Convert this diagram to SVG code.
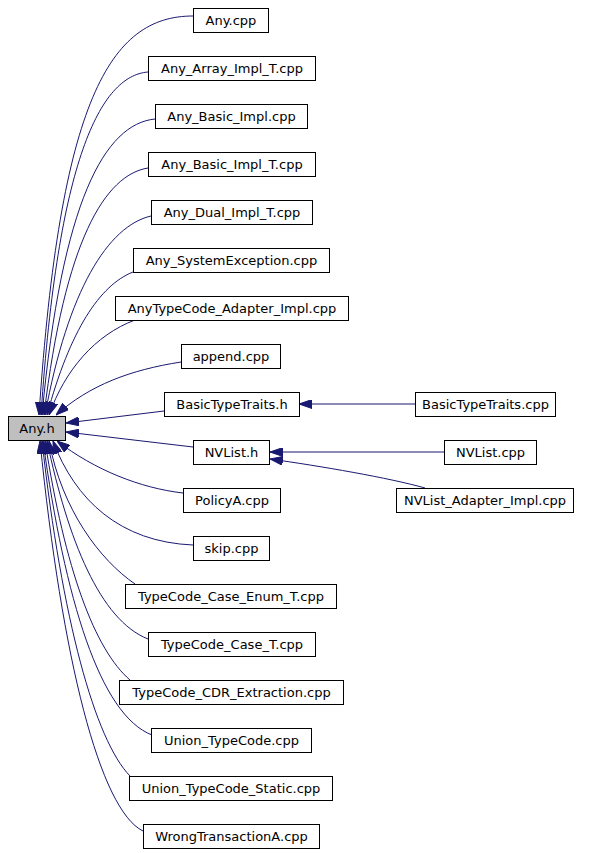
<svg xmlns="http://www.w3.org/2000/svg" width="589" height="853" viewBox="0 0 589 853">
<style>
.node rect{fill:#ffffff;stroke:#000000;stroke-width:1}
.node rect.hl{fill:#bfbfbf}
.node text{font-family:"DejaVu Sans","Liberation Sans",sans-serif;font-size:13px;fill:#000000;text-anchor:middle}
.edges path{fill:none;stroke:#191970;stroke-width:1;marker-end:url(#arr)}
</style>
<defs>
<marker id="arr" markerUnits="userSpaceOnUse" viewBox="0 0 13 9" markerWidth="13" markerHeight="9" refX="13" refY="4.5" orient="auto">
<path d="M0,0 L13,4.5 L0,9 z" fill="#191970" stroke="#191970" stroke-width="1"/>
</marker>
</defs>
<rect width="589" height="853" fill="#ffffff"/>
<g class="edges" id="edges">
<path d="M193,16 C110,16 60,100 39,415"/>
<path d="M148,72 C100,76 58,160 41,415"/>
<path d="M155,119 C105,124 62,200 42,415"/>
<path d="M148,168 C105,175 65,240 44,415"/>
<path d="M151,216 C108,226 68,290 45,415"/>
<path d="M133,272 C100,285 70,330 47,415"/>
<path d="M135,320 C95,335 65,370 49,415"/>
<path d="M181,362 C130,370 90,385 56,415"/>
<path d="M164,411 L66,423"/>
<path d="M193,447 L66,432"/>
<path d="M183,493 C140,488 95,470 57,441"/>
<path d="M193,545 C120,542 75,500 53,441"/>
<path d="M135,584 C100,560 62,510 49,441"/>
<path d="M148,639 C100,620 68,540 47,441"/>
<path d="M130,680 C95,650 65,570 45,441"/>
<path d="M152,735 C100,715 65,600 43,441"/>
<path d="M130,776 C95,740 62,620 42,441"/>
<path d="M143,831 C100,810 62,660 40,441"/>
<path d="M415,404 L299,404"/>
<path d="M444,452 L270,452"/>
<path d="M425,488 C390,478 320,466 270,459"/>
</g>
<g id="any_h" class="node"><rect class="hl" x="8.5" y="416.5" width="57" height="24"/><text x="37" y="433">Any.h</text></g>
<g id="any_cpp" class="node"><rect x="193.5" y="8.5" width="75" height="24"/><text x="231" y="25">Any.cpp</text></g>
<g id="any_array_impl_t" class="node"><rect x="148.5" y="56.5" width="167" height="24"/><text x="232" y="73">Any_Array_Impl_T.cpp</text></g>
<g id="any_basic_impl" class="node"><rect x="155.5" y="104.5" width="152" height="24"/><text x="231.5" y="121">Any_Basic_Impl.cpp</text></g>
<g id="any_basic_impl_t" class="node"><rect x="148.5" y="152.5" width="167" height="24"/><text x="232" y="169">Any_Basic_Impl_T.cpp</text></g>
<g id="any_dual_impl_t" class="node"><rect x="151.5" y="200.5" width="161" height="24"/><text x="232" y="217">Any_Dual_Impl_T.cpp</text></g>
<g id="any_systemexception" class="node"><rect x="133.5" y="248.5" width="196" height="24"/><text x="231.5" y="265">Any_SystemException.cpp</text></g>
<g id="anytypecode_adapter_impl" class="node"><rect x="115.5" y="296.5" width="233" height="24"/><text x="232" y="313">AnyTypeCode_Adapter_Impl.cpp</text></g>
<g id="append" class="node"><rect x="181.5" y="344.5" width="99" height="24"/><text x="231" y="361">append.cpp</text></g>
<g id="basictypetraits_h" class="node"><rect x="164.5" y="392.5" width="135" height="24"/><text x="232" y="409">BasicTypeTraits.h</text></g>
<g id="nvlist_h" class="node"><rect x="193.5" y="440.5" width="76" height="24"/><text x="231.5" y="457">NVList.h</text></g>
<g id="policya" class="node"><rect x="183.5" y="488.5" width="97" height="24"/><text x="232" y="505">PolicyA.cpp</text></g>
<g id="skip" class="node"><rect x="193.5" y="536.5" width="76" height="24"/><text x="231.5" y="553">skip.cpp</text></g>
<g id="typecode_case_enum_t" class="node"><rect x="125.5" y="584.5" width="211" height="24"/><text x="231" y="601">TypeCode_Case_Enum_T.cpp</text></g>
<g id="typecode_case_t" class="node"><rect x="148.5" y="632.5" width="167" height="24"/><text x="232" y="649">TypeCode_Case_T.cpp</text></g>
<g id="typecode_cdr_extraction" class="node"><rect x="119.5" y="680.5" width="224" height="24"/><text x="231.5" y="697">TypeCode_CDR_Extraction.cpp</text></g>
<g id="union_typecode" class="node"><rect x="151.5" y="728.5" width="160" height="24"/><text x="231.5" y="745">Union_TypeCode.cpp</text></g>
<g id="union_typecode_static" class="node"><rect x="129.5" y="776.5" width="203" height="24"/><text x="231" y="793">Union_TypeCode_Static.cpp</text></g>
<g id="wrongtransactiona" class="node"><rect x="143.5" y="824.5" width="176" height="24"/><text x="231.5" y="841">WrongTransactionA.cpp</text></g>
<g id="basictypetraits_cpp" class="node"><rect x="415.5" y="392.5" width="140" height="24"/><text x="485.5" y="409">BasicTypeTraits.cpp</text></g>
<g id="nvlist_cpp" class="node"><rect x="444.5" y="440.5" width="92" height="24"/><text x="490.5" y="457">NVList.cpp</text></g>
<g id="nvlist_adapter_impl" class="node"><rect x="396.5" y="488.5" width="177" height="24"/><text x="485" y="505">NVList_Adapter_Impl.cpp</text></g>
</svg>
